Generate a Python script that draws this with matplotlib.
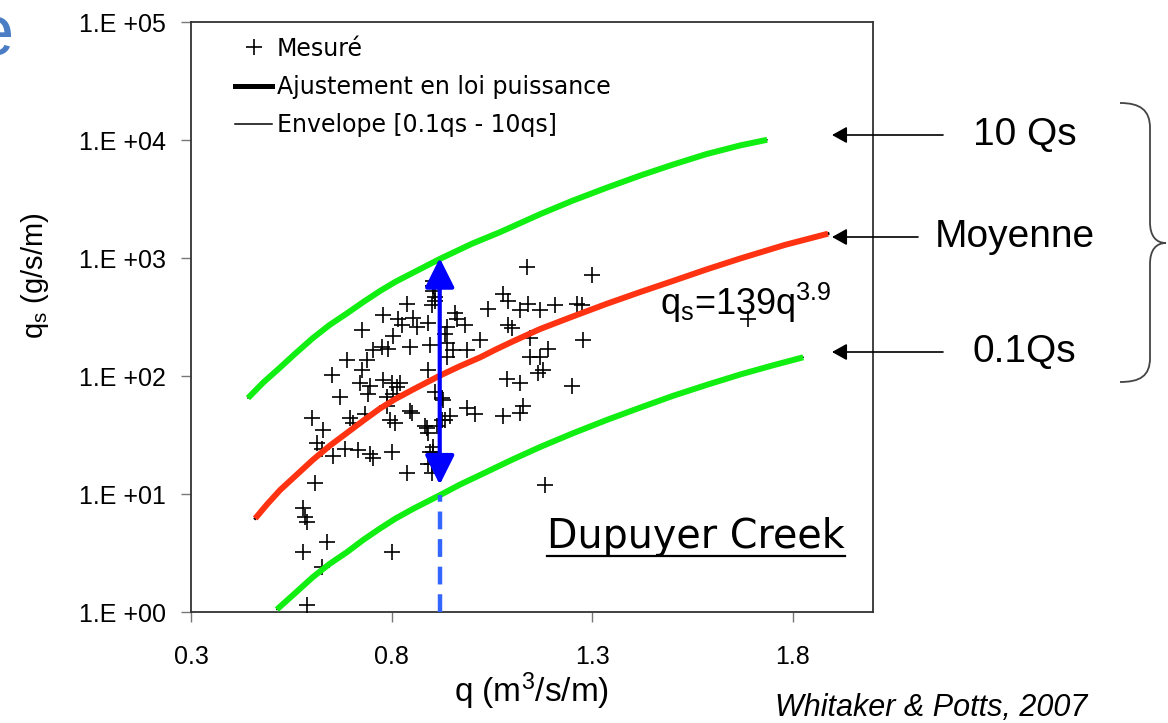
import matplotlib
matplotlib.use("Agg")
import matplotlib.pyplot as plt
from matplotlib.lines import Line2D
from matplotlib.patches import FancyArrowPatch, PathPatch
from matplotlib.path import Path

plt.rcParams['font.family'] = ['Liberation Sans', 'DejaVu Sans']
plt.rcParams['mathtext.fontset'] = 'custom'
plt.rcParams['mathtext.rm'] = 'Liberation Sans'
plt.rcParams['mathtext.it'] = 'Liberation Sans'

# Mesures (q en m3/s/m, qs en g/s/m)
q_mes = [1.138, 0.903, 0.903, 0.908, 0.839, 0.901, 1.078, 1.091, 1.041, 1.120,
         1.140, 1.170, 1.208, 1.263, 1.300, 0.779, 0.816, 0.854, 0.726, 0.804,
         0.864, 0.891, 0.938, 0.963, 0.983, 1.091, 1.100, 1.021, 0.754, 0.776,
         0.791, 0.846, 0.896, 0.938, 0.953, 0.988, 0.689, 0.739, 0.938, 1.145,
         1.170, 1.190, 0.652, 0.726, 0.891, 1.165, 1.250, 0.721, 0.746, 0.779,
         0.801, 0.814, 1.088, 1.120, 0.672, 0.741, 0.789, 0.804, 0.908, 0.928,
         0.846, 0.789, 0.988, 1.008, 0.946, 1.078, 1.120, 1.128, 0.602, 0.629,
         0.697, 0.704, 0.734, 0.796, 0.809, 0.889, 0.891, 0.933, 0.614, 0.627,
         0.684, 0.716, 0.746, 0.754, 0.801, 0.654, 0.839, 0.896, 0.901, 1.183,
         0.609, 0.579, 0.584, 0.589, 0.639, 0.579, 0.801, 0.627, 0.589, 1.689,
         1.278, 0.826, 0.958, 0.933, 0.821, 0.926, 0.851, 0.884, 0.903, 0.908,
         0.913, 0.926, 0.903, 0.903, 0.891, 0.901, 1.145, 1.275, 1.178]
qs_mes = [846, 584, 530, 471, 411, 396, 500, 436, 373, 359,
          411, 359, 396, 411, 720, 326, 307, 313, 243, 220,
          258, 284, 258, 307, 268, 268, 253, 200, 165, 175,
          171, 175, 182, 192, 165, 165, 136, 136, 144, 144,
          144, 171, 101, 112, 112, 105, 83, 88, 83, 92,
          87, 80, 95, 88, 66, 71, 66, 71, 73, 62,
          51, 56, 54, 48, 46, 46, 49, 56, 44, 35,
          44, 40, 48, 42, 40, 36, 33, 42, 27, 24,
          24, 23.5, 22, 20, 22.6, 21, 15, 22.6, 18, 11.9,
          12.3, 7.6, 6.4, 5.8, 3.9, 3.2, 3.2, 2.4, 1.15, 307,
          200, 268, 345, 229, 88, 65, 49, 38, 644, 436,
          38, 42, 25, 22.6, 18, 15, 209, 396, 112]

# Ajustement en loi puissance (qs = 139 q^3.9)
q_fit = [0.460, 0.490, 0.522, 0.560, 0.604, 0.645, 0.689, 0.730, 0.771, 0.810,
         0.854, 0.921, 0.970, 1.021, 1.060, 1.103, 1.170, 1.250, 1.337, 1.420,
         1.502, 1.585, 1.669, 1.780, 1.888]
qs_fit = [6.2, 8.2, 10.8, 14.2, 19.5, 25.5, 33, 42, 53, 64,
          77, 101, 121, 144, 168, 197, 250, 318, 410, 515,
          640, 800, 990, 1290, 1608]

# Enveloppe 10 qs
q_hi = [0.442, 0.480, 0.522, 0.560, 0.604, 0.645, 0.689, 0.730, 0.771, 0.810,
        0.854, 0.921, 1.000, 1.071, 1.170, 1.250, 1.337, 1.420, 1.502, 1.585,
        1.669, 1.736]
qs_hi = [65, 88, 118, 155, 210, 270, 340, 425, 525, 630,
         752, 985, 1320, 1660, 2350, 3050, 3950, 5000, 6200, 7600,
         9000, 10040]

# Enveloppe 0.1 qs
q_lo = [0.514, 0.560, 0.604, 0.645, 0.689, 0.730, 0.771, 0.810, 0.854, 0.921,
        0.970, 1.021, 1.100, 1.170, 1.250, 1.337, 1.420, 1.502, 1.585, 1.669,
        1.750, 1.826]
qs_lo = [1.05, 1.45, 1.98, 2.55, 3.22, 4.1, 5.1, 6.2, 7.5, 9.8,
         12.0, 14.5, 19.5, 25, 32.5, 42.5, 54, 68, 84, 103,
         123, 144]

# Fleche bleue (ecart 0.1qs - 10qs a q = 0.92)
q_arrow = 0.92
qs_arrow = [12, 1000]
qs_dash = [1, 9.8]

x_ticks = [0.3, 0.8, 1.3, 1.8]
x_labels = ['0.3', '0.8', '1.3', '1.8']
y_ticks = [1, 10, 100, 1000, 10000, 100000]
y_labels = ['1.E +00', '1.E +01', '1.E +02', '1.E +03', '1.E +04', '1.E +05']

W, H = 1168, 723
fig = plt.figure(figsize=(W / 100, H / 100), dpi=100)
ax = fig.add_axes([191 / W, 1 - 612 / H, 682 / W, 590 / H])


def px(x, y):
    # pixels (origine en haut a gauche) -> pouces pour fig.dpi_scale_trans
    return (x / 100, (H - y) / 100)


ax.plot(q_fit, qs_fit, color='k', lw=2, zorder=2)
ax.plot(q_hi, qs_hi, color='k', lw=1, zorder=2)
ax.plot(q_lo, qs_lo, color='k', lw=1, zorder=2)
ax.plot(q_mes, qs_mes, ls='none', marker='+', color='k', ms=11, mew=1.2, zorder=3)
ax.plot(q_hi, qs_hi, color='#11ee11', lw=4.3, solid_capstyle='butt', zorder=4)
ax.plot(q_lo, qs_lo, color='#11ee11', lw=4.3, solid_capstyle='butt', zorder=4)
ax.plot(q_fit, qs_fit, color='#ff3311', lw=4.3, solid_capstyle='butt', zorder=4)

ax.plot([q_arrow, q_arrow], qs_dash, color='#3366ff', lw=3.2, dashes=(4, 2.2), zorder=5)
ax.annotate('', xy=(q_arrow, qs_arrow[1]), xytext=(q_arrow, qs_arrow[0]),
            arrowprops=dict(arrowstyle='<|-|>,head_length=0.4,head_width=0.2',
                            mutation_scale=45, color='#0000ff', lw=3,
                            shrinkA=0, shrinkB=0), zorder=6)

ax.set_yscale('log')
ax.set_xlim(0.3, 2.0)
ax.set_ylim(1, 1e5)
ax.set_xticks(x_ticks)
ax.set_xticklabels(x_labels)
ax.set_yticks(y_ticks)
ax.set_yticklabels(y_labels)
ax.minorticks_off()
ax.tick_params(axis='both', direction='out', length=7, width=1, color='#777',
               labelsize=18)
ax.tick_params(axis='x', pad=17)
ax.tick_params(axis='y', pad=11)
for s in ax.spines.values():
    s.set_color('#333')
    s.set_linewidth(1.3)

ax.set_xlabel('q (m$^3$/s/m)', fontsize=24, va='top')
ax.xaxis.set_label_coords(0.5, -0.100)
ax.set_ylabel('q$_s$ (g/s/m)', fontsize=21)
ax.yaxis.set_label_coords(-0.205, 0.57)

handles = [Line2D([], [], ls='none', marker='+', color='k', ms=11, mew=1.2),
           Line2D([], [], color='k', lw=3.6),
           Line2D([], [], color='k', lw=1.1)]
labels = ['Mesuré', 'Ajustement en loi puissance', 'Envelope [0.1qs - 10qs]']
ax.legend(handles, labels, loc='upper left', bbox_to_anchor=(0.0645, 0.975),
          frameon=False, borderpad=0, borderaxespad=0, handlelength=1.57,
          handletextpad=0.21, labelspacing=0.6, numpoints=1,
          prop={'family': 'DejaVu Sans', 'size': 17})

tr = fig.dpi_scale_trans
fig.text(*px(660, 315), 'q$_s$=139q$^{3.9}$', transform=tr, fontsize=26, va='baseline')
dc = fig.text(*px(547, 548), 'Dupuyer Creek', transform=tr, fontsize=28.5,
              family='DejaVu Sans', va='baseline')
fig.text(*px(775, 716), 'Whitaker & Potts, 2007', transform=tr, fontsize=22,
         style='italic', va='baseline')
fig.text(*px(14, 55), 'e', transform=tr, fontsize=52, color='#4a7dc4',
         ha='right', va='baseline')

for txt, xt, y, tail in [('10 Qs', 973, 135, 943), ('Moyenne', 935, 237, 918),
                         ('0.1Qs', 973, 352, 943)]:
    fig.text(*px(xt, y), txt, transform=tr, fontsize=28, va='center')
    fig.add_artist(FancyArrowPatch(px(tail, y), px(832, y), transform=tr,
                                   arrowstyle='-|>,head_length=0.45,head_width=0.25',
                                   mutation_scale=20, lw=1.2, color='k',
                                   shrinkA=0, shrinkB=0))

brace = [(1120, 103), (1140, 103), (1150, 110), (1150, 128), (1150, 222),
         (1150, 236), (1156, 243), (1166, 243), (1156, 243), (1150, 250),
         (1150, 264), (1150, 358), (1150, 376), (1140, 382), (1120, 382)]
codes = [Path.MOVETO, Path.CURVE4, Path.CURVE4, Path.CURVE4, Path.LINETO,
         Path.CURVE4, Path.CURVE4, Path.CURVE4, Path.CURVE4, Path.CURVE4,
         Path.CURVE4, Path.LINETO, Path.CURVE4, Path.CURVE4, Path.CURVE4]
fig.add_artist(PathPatch(Path([px(x, y) for x, y in brace], codes), transform=tr,
                         fill=False, lw=1.3, ec='#444'))

# soulignement de "Dupuyer Creek"
fig.canvas.draw()
bb = dc.get_window_extent()
fig.add_artist(Line2D([bb.x0, bb.x1], [bb.y0 + 1, bb.y0 + 1], color='k', lw=1.6,
                      transform=None))

fig.savefig('out.png', dpi=100)
